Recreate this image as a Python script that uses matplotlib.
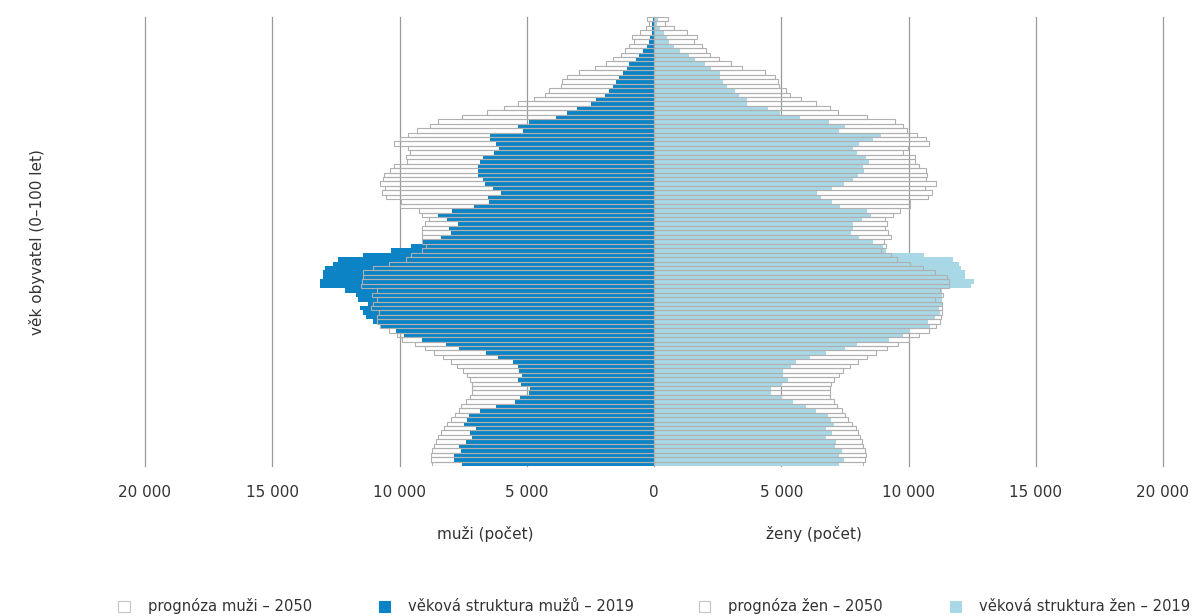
import numpy as np
import matplotlib
matplotlib.use("Agg")
import matplotlib.pyplot as plt
from matplotlib.patches import Rectangle

plt.rcParams['font.family'] = ['DejaVu Sans']

# ages 0..100
ages = np.arange(0, 101)

muzi_2019 = [7550, 7870, 7870, 7570, 7650, 7380, 7170, 7230, 6980, 7480,
             7330, 7270, 6830, 6220, 5480, 5280, 4900, 4870, 5220, 5330,
             5180, 5300, 5350, 5550, 6130, 6620, 7670, 8180, 9130, 9830,
             10150, 10780, 11030, 11330, 11430, 11570, 11250, 11620, 11700, 12130,
             13120, 13120, 13000, 13020, 12920, 12630, 12400, 11430, 10320, 9530,
             9070, 8370, 7980, 8070, 7700, 8150, 8480, 7950, 7070, 6500,
             6520, 6000, 6320, 6630, 6700, 6900, 6930, 6930, 6820, 6720,
             6280, 6080, 6220, 6430, 6450, 5130, 5350, 4920, 3870, 3430,
             3030, 2480, 2270, 1930, 1780, 1620, 1480, 1370, 1230, 1070,
             1000, 700, 600, 450, 280, 200, 150, 80, 80, 70,
             50]

muzi_2050 = [8720, 8750, 8750, 8720, 8630, 8550, 8480, 8370, 8250, 8120,
             7970, 7820, 7650, 7600, 7370, 7230, 7150, 7150, 7150, 7220,
             7350, 7520, 7730, 7970, 8280, 8630, 9000, 9380, 9920, 10080,
             10430, 10750, 10870, 10900, 10800, 11120, 11050, 10880, 11070, 10880,
             11530, 11470, 11450, 11450, 11030, 10430, 9730, 9530, 9130, 8970,
             9100, 9100, 9130, 9120, 9000, 8830, 9120, 9250, 9970, 9950,
             10530, 10700, 10570, 10750, 10630, 10600, 10370, 10220, 9700, 9730,
             9580, 9670, 10220, 9970, 9670, 9300, 8800, 8480, 7530, 6580,
             5880, 5330, 4730, 4280, 4120, 3650, 3620, 3430, 2930, 2320,
             1870, 1630, 1280, 1130, 980, 780, 870, 550, 320, 180,
             270]

zeny_2019 = [7280, 7470, 7280, 7380, 7130, 7170, 6750, 7000, 6750, 7070,
             6970, 6850, 6380, 5970, 5470, 5020, 4580, 4580, 5020, 5250,
             5050, 5050, 5380, 5570, 6120, 6750, 7500, 7980, 9220, 9800,
             10050, 10830, 10750, 11030, 11250, 11200, 11300, 11300, 11300, 11330,
             12470, 12580, 12220, 12220, 12080, 12000, 11750, 10620, 9130, 9000,
             8600, 8070, 7750, 7830, 7800, 8170, 8520, 8370, 7300, 7000,
             6580, 6420, 7000, 7450, 7800, 8000, 8250, 8230, 8430, 8330,
             7970, 7830, 8070, 8600, 8930, 7280, 7520, 6880, 5720, 4950,
             4470, 3650, 3650, 3350, 3170, 2870, 2720, 2600, 2580, 2250,
             2020, 1600, 1370, 1030, 800, 600, 500, 380, 250, 100,
             170]

zeny_2050 = [8220, 8300, 8330, 8280, 8220, 8170, 8100, 8000, 7920, 7780,
             7630, 7500, 7370, 7200, 7080, 6920, 6930, 6930, 6970, 7070,
             7250, 7430, 7720, 8000, 8350, 8730, 9170, 9600, 10030, 10420,
             10800, 11100, 11250, 11270, 11300, 11300, 11300, 11030, 11370, 11250,
             11580, 11580, 11500, 11030, 10580, 10070, 9550, 9300, 8920, 9130,
             9030, 9300, 9200, 9080, 9170, 9080, 9380, 9670, 10050, 10070,
             10780, 10930, 10650, 11100, 10680, 10720, 10670, 10430, 10270, 10270,
             9800, 9970, 10820, 10670, 10330, 9950, 9800, 9470, 8380, 7230,
             6920, 6350, 5780, 5350, 5200, 4920, 4870, 4770, 4370, 3470,
             3030, 2570, 2200, 2030, 1870, 1580, 1700, 1300, 800, 450,
             550]

xticks = [-20000, -15000, -10000, -5000, 0, 5000, 10000, 15000, 20000]
xlabels = ['20 000', '15 000', '10 000', '5 000', '0', '5 000', '10 000', '15 000', '20 000']

blue = '#0b83c4'
light = '#a8d8e5'
edge = '#b0b0b0'
txt = '#333333'
W, H = 1198, 616

fig = plt.figure(figsize=(11.98, 6.16), dpi=100)
ax = fig.add_axes([145/W, 1-466/H, (1163-145)/W, (466-17)/H])

ax.barh(ages, -np.array(muzi_2019), height=1.0, color=blue, lw=0, zorder=2)
ax.barh(ages, zeny_2019, height=1.0, color=light, lw=0, zorder=2)
ax.barh(ages, -np.array(muzi_2050), height=1.0, fill=False, edgecolor=edge, lw=0.8, zorder=3)
ax.barh(ages, zeny_2050, height=1.0, fill=False, edgecolor=edge, lw=0.8, zorder=3)

ax.set_xlim(-20000, 20000)
ax.set_ylim(-0.5, 100.5)
ax.set_xticks(xticks)
ax.set_xticklabels(xlabels, fontsize=11, color=txt)
ax.tick_params(axis='x', length=0, pad=14)
ax.set_yticks([])
ax.grid(axis='x', color='#9a9a9a', lw=0.9, zorder=0)
ax.set_axisbelow(True)
for gl in ax.get_xgridlines():
    gl.set_clip_on(False)
for s in ax.spines.values():
    s.set_visible(False)

fig.text(37/W, 1-242/H, 'věk obyvatel (0–100 let)', rotation=90,
         ha='center', va='center', fontsize=11, color=txt)
fig.text(485/W, 1-539/H, 'muži (počet)', ha='center', va='baseline', fontsize=11, color=txt)
fig.text(814/W, 1-539/H, 'ženy (počet)', ha='center', va='baseline', fontsize=11, color=txt)

# legend, drawn by hand so the entries sit where the reference has them
leg_labels = ['prognóza muži – 2050', 'věková struktura mužů – 2019',
              'prognóza žen – 2050', 'věková struktura žen – 2019']
leg_faces = ['white', blue, 'white', light]
leg_edges = ['#c4c4c4', blue, '#c4c4c4', light]
leg_x = [124, 384, 704, 955]
sq = 11
for lab, fc, ec, x in zip(leg_labels, leg_faces, leg_edges, leg_x):
    fig.add_artist(Rectangle(((x - sq/2)/W, 1-(606 + sq/2)/H), sq/W, sq/H,
                             facecolor=fc, edgecolor=ec, lw=0.8,
                             transform=fig.transFigure))
    fig.text((x + 24)/W, 1-611/H, lab, ha='left', va='baseline', fontsize=10.6, color=txt)

fig.savefig('out.png', dpi=100)
